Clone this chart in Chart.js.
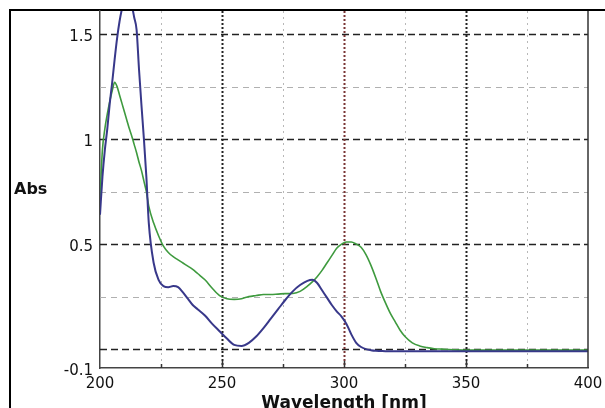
<!DOCTYPE html>
<html>
<head>
<meta charset="utf-8">
<script src="https://cdn.jsdelivr.net/npm/chart.js@4/dist/chart.umd.min.js"></script>
<style>
  html, body { margin: 0; padding: 0; background: #fff; overflow: hidden; }
  #wrap { position: relative; width: 605px; height: 408px; }
  #frame { position: absolute; left: 9px; top: 9px; width: 700px; height: 500px; border: 2px solid #000; }
  canvas { position: absolute; left: 0; top: 0; }
</style>
</head>
<body>
<div id="wrap">
  <div id="frame"></div>
  <canvas id="grafico" width="605" height="408"></canvas>
</div>
<script>
// comprimentos de onda (nm)
const wavelengths = [200, 201, 202, 203, 204, 205, 206, 207, 208, 209, 210, 211, 212, 213, 214, 215, 216, 217, 218, 219, 220,
  222, 224, 226, 228, 230, 232, 234, 236, 238, 240, 243, 246, 249, 252, 255, 258, 261, 264, 267, 270, 273, 276, 279, 282,
  285, 287, 289, 291, 293, 295, 297, 299, 301, 303, 305, 307, 309, 311, 313, 315, 317, 319, 321, 323, 325, 328, 331, 334,
  337, 340, 345, 350, 360, 370, 380, 390, 400];

// curva azul
const absBlue = [0.64, 0.82, 0.95, 1.05, 1.17, 1.27, 1.38, 1.48, 1.56, 1.62, 1.66, 1.69, 1.68, 1.64, 1.58, 1.52, 1.33, 1.16, 1.00, 0.82, 0.60,
  0.41, 0.33, 0.30, 0.295, 0.30, 0.295, 0.27, 0.24, 0.21, 0.19, 0.16, 0.12, 0.085, 0.05, 0.02, 0.015, 0.03, 0.06, 0.10, 0.145, 0.19, 0.235, 0.275, 0.305,
  0.325, 0.33, 0.315, 0.28, 0.245, 0.21, 0.18, 0.155, 0.12, 0.07, 0.03, 0.01, 0.0, -0.005, -0.008, -0.009, -0.01, -0.01, -0.01, -0.01, -0.01, -0.01, -0.01, -0.01,
  -0.01, -0.01, -0.01, -0.01, -0.01, -0.01, -0.01, -0.01, -0.01];

// curva verde
const absGreen = [0.72, 0.95, 1.05, 1.12, 1.18, 1.23, 1.27, 1.25, 1.21, 1.17, 1.13, 1.09, 1.05, 1.015, 0.975, 0.935, 0.89, 0.85, 0.80, 0.75, 0.68,
  0.60, 0.54, 0.49, 0.46, 0.44, 0.425, 0.41, 0.395, 0.38, 0.36, 0.33, 0.29, 0.255, 0.24, 0.237, 0.24, 0.25, 0.255, 0.26, 0.26, 0.262, 0.264, 0.265, 0.275,
  0.30, 0.32, 0.345, 0.375, 0.41, 0.445, 0.48, 0.50, 0.51, 0.51, 0.50, 0.485, 0.45, 0.40, 0.34, 0.275, 0.22, 0.17, 0.13, 0.09, 0.06, 0.03, 0.015, 0.007,
  0.002, 0.0, -0.003, -0.005, -0.005, -0.005, -0.005, -0.005, -0.005];

// ticks dos eixos
const xTickValues = [200, 225, 250, 275, 300, 325, 350, 375, 400];
const xTickLabels = ["200", "", "250", "", "300", "", "350", "", "400"];
const yTickValues = [-0.09, 0, 0.25, 0.5, 0.75, 1, 1.25, 1.5];
const yTickLabels = ["-0.1", "", "", "0.5", "", "1", "", "1.5"];

// grade tracejada + ticks internos + "Abs"
const gradePlugin = {
    id: "grade",
    beforeDatasetsDraw(chart) {
        const { ctx, chartArea: a, scales: { x, y } } = chart;
        ctx.save();
        // linhas horizontais
        y.ticks.forEach(t => {
            if (t.value <= y.min) return;
            const py = Math.round(y.getPixelForValue(t.value)) + 0.5;
            const major = Math.abs(t.value * 2 - Math.round(t.value * 2)) < 1e-6;
            ctx.strokeStyle = major ? "#222" : "#b0b0b0";
            ctx.lineWidth = major ? 1.5 : 1;
            ctx.setLineDash(major ? [7, 4] : [6, 5]);
            ctx.beginPath();
            ctx.moveTo(a.left, py);
            ctx.lineTo(a.right, py);
            ctx.stroke();
        });
        // linhas verticais
        x.ticks.forEach(t => {
            if (t.value <= x.min || t.value >= x.max) return;
            const px = Math.round(x.getPixelForValue(t.value)) + 0.5;
            const major = t.value % 50 === 0;
            ctx.strokeStyle = major ? (t.value === 300 ? "#7a3535" : "#222") : "#b8b8b8";
            ctx.lineWidth = major ? 2 : 1;
            ctx.setLineDash(major ? [2, 2] : [2, 4]);
            ctx.beginPath();
            ctx.moveTo(px, a.top);
            ctx.lineTo(px, a.bottom);
            ctx.stroke();
            // tick interno
            ctx.setLineDash([]);
            ctx.strokeStyle = "#333";
            ctx.lineWidth = 1.5;
            ctx.beginPath();
            ctx.moveTo(px, a.bottom);
            ctx.lineTo(px, a.bottom - (major ? 7 : 4));
            ctx.stroke();
        });
        ctx.restore();
    },
    afterDraw(chart) {
        const { ctx, chartArea: a } = chart;
        ctx.save();
        // borda direita
        ctx.strokeStyle = "#333";
        ctx.lineWidth = 1.5;
        ctx.beginPath();
        ctx.moveTo(a.right, a.top);
        ctx.lineTo(a.right, a.bottom);
        ctx.stroke();
        // titulo do eixo y, na horizontal
        ctx.fillStyle = "#111";
        ctx.font = "bold 16px 'DejaVu Sans'";
        ctx.textBaseline = "middle";
        ctx.fillText("Abs", 14, 190);
        ctx.restore();
    }
};

new Chart(document.getElementById("grafico"), {
    type: "line",
    data: {
        datasets: [{
            label: "azul",
            data: wavelengths.map((w, i) => ({ x: w, y: absBlue[i] })),
            borderColor: "#38388a",
            borderWidth: 2,
            pointRadius: 0,
            cubicInterpolationMode: "monotone"
        }, {
            label: "verde",
            data: wavelengths.map((w, i) => ({ x: w, y: absGreen[i] })),
            borderColor: "#3e9a3e",
            borderWidth: 1.6,
            pointRadius: 0,
            cubicInterpolationMode: "monotone"
        }]
    },
    options: {
        responsive: false,
        animation: false,
        layout: { padding: { top: 11, right: 17, left: 0, bottom: 0 } },
        plugins: { legend: { display: false }, tooltip: { enabled: false } },
        scales: {
            x: {
                type: "linear",
                min: 200,
                max: 400,
                afterBuildTicks: s => { s.ticks = xTickValues.map(v => ({ value: v })); },
                afterFit: s => { s.height = 40; s.paddingLeft = 0; s.paddingRight = 0; },
                grid: { display: false, drawTicks: false },
                border: { display: true, color: "#444", width: 1.5 },
                ticks: {
                    autoSkip: false,
                    maxRotation: 0,
                    padding: 7,
                    color: "#111",
                    font: { family: "'DejaVu Sans'", size: 15 },
                    callback: (v, i) => xTickLabels[i]
                },
                title: {
                    display: true,
                    text: "Wavelength [nm]",
                    color: "#111",
                    font: { family: "'DejaVu Sans'", size: 17, weight: "bold" },
                    padding: { top: 0, bottom: -6 }
                }
            },
            y: {
                min: -0.09,
                max: 1.61,
                afterBuildTicks: s => { s.ticks = yTickValues.map(v => ({ value: v })); },
                afterFit: s => { s.width = 100; s.paddingTop = 0; s.paddingBottom = 0; },
                grid: { display: false, drawTicks: false },
                border: { display: true, color: "#444", width: 1.5 },
                ticks: {
                    autoSkip: false,
                    padding: 7,
                    labelOffset: 3,
                    color: "#111",
                    font: { family: "'DejaVu Sans'", size: 15 },
                    callback: (v, i) => yTickLabels[i]
                }
            }
        }
    },
    plugins: [gradePlugin]
});
</script>
</body>
</html>
